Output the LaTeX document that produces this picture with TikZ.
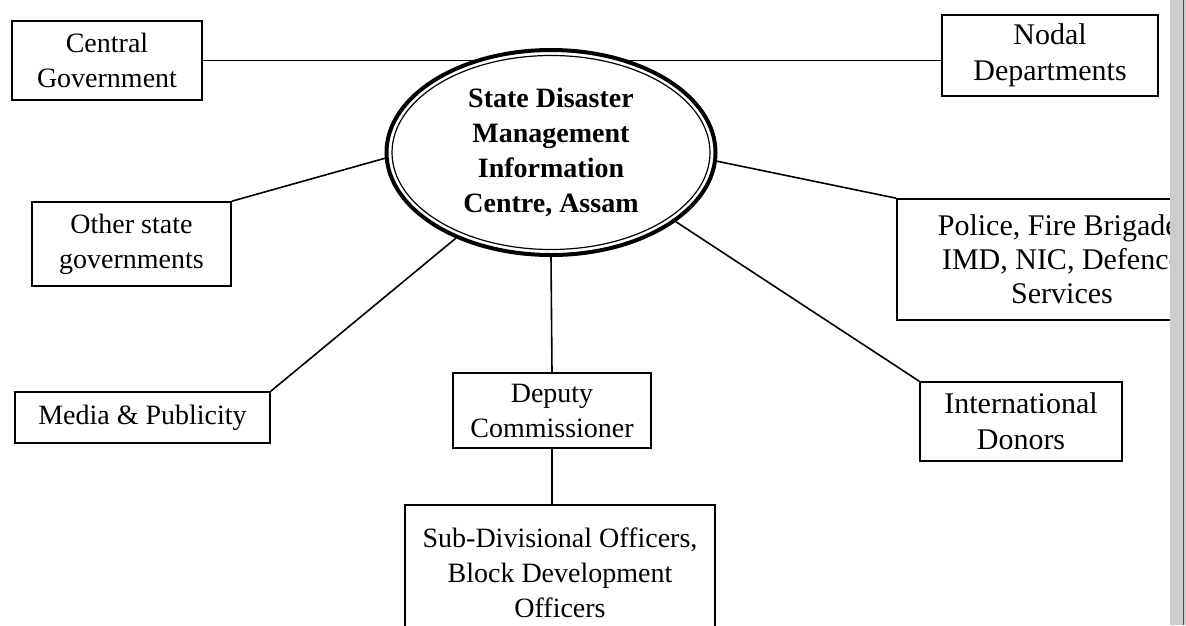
\documentclass[tikz,border=0pt]{standalone}
\usepackage{fontspec}
\setmainfont{Liberation Serif}
\usetikzlibrary{shapes.geometric,backgrounds}
\begin{document}
\begin{tikzpicture}[x=1pt,y=-1pt,
  box/.style={draw, line width=1.6pt, rectangle, inner sep=0pt, align=center,
    font=\fontsize{28}{35}\selectfont},
  rbox/.style={box, font=\fontsize{30}{36}\selectfont},
  link/.style={line width=1.6pt}]
\useasboundingbox (0,0) rectangle (1186,625);

% centre
\node[ellipse, draw, fill=white, line width=4pt, minimum width=329pt, minimum height=205pt,
      inner sep=0pt, align=center, font=\bfseries\fontsize{28}{35}\selectfont]
      (c) at (551,152.5) {State Disaster\\Management\\Information\\Centre, Assam};
\draw[line width=1.2pt] (c.center) ellipse [x radius=159, y radius=97];

% boxes
\node[box, minimum width=190pt, minimum height=79pt] (cg) at (107,60.5) {Central\\Government};
\node[rbox, minimum width=216pt, minimum height=81pt] (nd) at (1050,55.5) {Nodal\\Departments};
\node[box, minimum width=199pt, minimum height=84pt] (osg) at (131.5,244) {Other state\\governments};
\node[box, minimum width=255pt, minimum height=51pt] (md) at (142.5,417.5) {Media \& Publicity};
\node[box, minimum width=198pt, minimum height=75pt] (dc) at (552,410.5) {Deputy\\Commissioner};
\node[box, minimum width=310pt, minimum height=135pt] (sd) at (560,572.5)
  {Sub-Divisional Officers,\\Block Development\\Officers};
\node[rbox, minimum width=202pt, minimum height=79pt] (id) at (1021,421.5) {International\\Donors};
\node[rbox, minimum width=330pt, minimum height=121pt, font=\fontsize{30}{34}\selectfont] (pol) at (1062,259.5)
  {Police, Fire Brigade,\\IMD, NIC, Defence\\Services};

% connectors
\begin{scope}[on background layer]
\draw[link] (cg.east) -- (c.center |- cg.east);
\draw[link] (nd.west |- cg.east) -- (c.center |- cg.east);
\end{scope}
\draw[link] (osg.north east) -- (c.182);
\draw[link] (md.north east) -- (c.222);
\draw[link] (c.south) -- (dc.north);
\draw[link] (dc.south) -- (dc.south |- sd.north);
\draw[link] (c.331) -- (id.north west);
\draw[link] (c.357) -- (pol.north west);

% scanned page edge
\fill[black!20] (1170,0) rectangle (1186,625);
\draw[black!70, line width=1.2pt] (1183.5,0) -- (1183.5,625);
\end{tikzpicture}
\end{document}
